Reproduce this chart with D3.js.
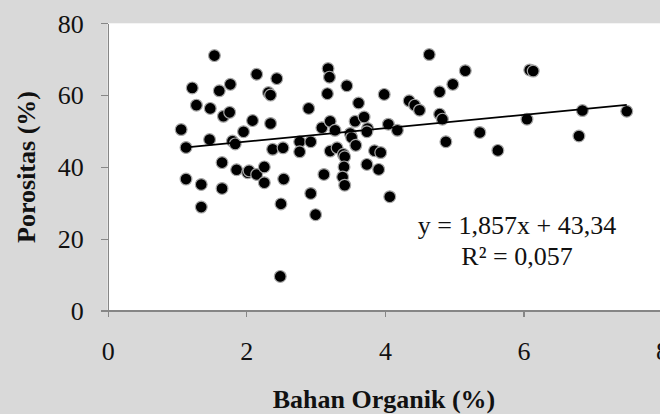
<!DOCTYPE html>
<html>
<head>
<meta charset="utf-8">
<script src="https://cdn.jsdelivr.net/npm/d3@7/dist/d3.min.js"></script>
<style>
  body { margin: 0; background: #d9d9d9; }
  svg { display: block; }
  .axis path, .axis line { stroke: #868686; stroke-width: 1.3; shape-rendering: crispEdges; }
  .axis text { font-family: "Liberation Serif", "Times New Roman", serif; font-size: 26px; fill: #111; }
  .title { font-family: "Liberation Serif", "Times New Roman", serif; font-size: 26px; font-weight: bold; fill: #111; }
  .eq { font-family: "Liberation Serif", "Times New Roman", serif; font-size: 26px; fill: #111; }
</style>
</head>
<body>
<script>
var width = 660,
    height = 414;

// data
var bahanOrganik = [1.54, 1.22, 1.61, 1.77, 2.15, 2.44, 2.32, 2.35, 1.28, 1.48,
    1.67, 1.76, 1.06, 1.13, 1.47, 1.96, 2.09, 2.35, 1.80, 1.84,
    2.38, 2.53, 2.77, 2.77, 2.93, 2.90, 3.17, 3.18, 3.20, 3.09,
    3.21, 3.28, 3.21, 3.31, 1.65, 1.86, 2.02, 2.04, 2.15, 2.26,
    2.26, 2.54, 1.13, 1.35, 1.65, 1.35, 2.50, 2.93, 3.00, 3.12,
    2.49, 3.45, 4.64, 5.16, 6.09, 6.14, 3.99, 4.79, 4.98, 3.62,
    4.35, 4.43, 4.50, 4.79, 4.83, 3.57, 3.70, 3.75, 3.74, 3.50,
    3.52, 4.05, 4.18, 3.58, 3.40, 3.42, 3.85, 3.94, 3.74, 3.91,
    3.41, 3.39, 3.42, 4.07, 4.88, 5.37, 5.63, 6.05, 6.85, 6.80,
    7.49];
var porositas = [71.0, 62.0, 61.2, 63.0, 65.8, 64.6, 60.7, 60.0, 57.2, 56.3,
    54.1, 55.2, 50.4, 45.4, 47.6, 49.8, 52.9, 52.1, 47.2, 46.4,
    44.9, 45.3, 47.0, 44.2, 47.0, 56.3, 60.4, 67.4, 65.0, 50.9,
    52.7, 50.2, 44.4, 45.3, 41.2, 39.2, 38.4, 38.9, 37.9, 40.0,
    35.6, 36.6, 36.6, 35.1, 34.0, 28.8, 29.7, 32.6, 26.7, 37.9,
    9.5, 62.6, 71.3, 66.8, 67.0, 66.7, 60.2, 60.9, 63.0, 57.8,
    58.4, 57.2, 55.8, 54.7, 53.3, 52.7, 53.9, 50.7, 49.8, 49.3,
    48.2, 51.9, 50.2, 46.0, 43.5, 42.8, 44.5, 44.0, 40.7, 39.3,
    40.0, 37.2, 34.9, 31.7, 47.0, 49.6, 44.6, 53.3, 55.7, 48.6,
    55.5];
var xTicks = [0, 2, 4, 6, 8];
var yTicks = [0, 20, 40, 60, 80];
var slope = 1.857,
    intercept = 43.34;
var eqLines = ["y = 1,857x + 43,34", "R² = 0,057"];

var x = d3.scaleLinear().domain([0, 8]).range([107.7, 662.1]);
var y = d3.scaleLinear().domain([0, 80]).range([310.5, 23.3]);

var svg = d3.select("body").append("svg")
    .attr("width", width)
    .attr("height", height);

svg.append("rect")
    .attr("width", width)
    .attr("height", height)
    .attr("fill", "#d9d9d9");

// plot area
svg.append("rect")
    .attr("x", x(0))
    .attr("y", y(80))
    .attr("width", width - x(0))
    .attr("height", y(0) - y(80))
    .attr("fill", "#fff");

var xAxis = d3.axisBottom(x).tickValues(xTicks).tickSize(6).tickSizeOuter(0).tickPadding(25);
var yAxis = d3.axisLeft(y).tickValues(yTicks).tickSize(7).tickSizeOuter(0).tickPadding(17);

svg.append("g")
    .attr("class", "axis")
    .attr("transform", "translate(0," + y(0) + ")")
    .call(xAxis);

svg.append("g")
    .attr("class", "axis")
    .attr("transform", "translate(" + x(0) + ",0)")
    .call(yAxis)
    .selectAll("text").attr("dy", "0.34em");

// points
svg.append("g")
    .selectAll("circle")
    .data(bahanOrganik)
    .enter()
    .append("circle")
    .attr("cx", function(d) { return x(d); })
    .attr("cy", function(d, i) { return y(porositas[i]); })
    .attr("r", 5.9)
    .attr("fill", "#000")
    .attr("stroke", "#a6a6a6")
    .attr("stroke-width", 1.2);

// linear trendline
var xr = d3.extent(bahanOrganik);
svg.append("line")
    .attr("x1", x(xr[0]))
    .attr("y1", y(slope * xr[0] + intercept))
    .attr("x2", x(xr[1]))
    .attr("y2", y(slope * xr[1] + intercept))
    .attr("stroke", "#000")
    .attr("stroke-width", 1.8);

svg.append("g")
    .selectAll("text")
    .data(eqLines)
    .enter()
    .append("text")
    .attr("class", "eq")
    .attr("x", 517)
    .attr("y", function(d, i) { return 234 + i * 31; })
    .attr("text-anchor", "middle")
    .text(function(d) { return d; });

// axis titles
svg.append("text")
    .attr("class", "title")
    .attr("x", 384)
    .attr("y", 408)
    .attr("text-anchor", "middle")
    .text("Bahan Organik (%)");

svg.append("text")
    .attr("class", "title")
    .attr("transform", "translate(35,167) rotate(-90)")
    .attr("text-anchor", "middle")
    .text("Porositas (%)");
</script>
</body>
</html>
